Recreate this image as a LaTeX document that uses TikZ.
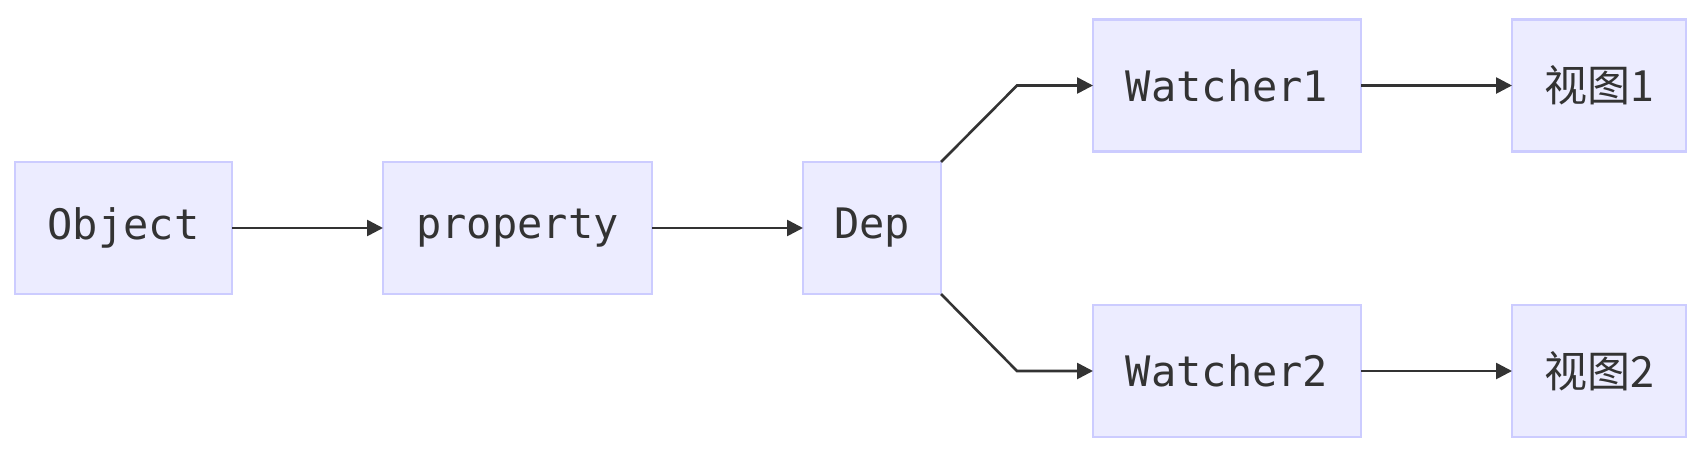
\documentclass[tikz,border=0pt]{standalone}
\usepackage{fontspec}
\setmonofont{DejaVu Sans Mono}
\newfontfamily\cjk{Noto Sans CJK SC}
\usetikzlibrary{arrows.meta}
\definecolor{nfill}{HTML}{ECECFF}
\definecolor{nline}{HTML}{CCCCFF}
\definecolor{tcol}{HTML}{333333}
\tikzset{
  nbox/.style={draw=nline, fill=nfill, line width=1.3pt, rectangle, outer sep=0pt, inner sep=0pt,
    minimum height=66pt, text=tcol, font=\fontsize{21}{25}\selectfont\ttfamily},
  cbox/.style={nbox, font=\fontsize{21.5}{25}\selectfont\cjk},
  conn/.style={draw=tcol, line width=1.3pt, -{Triangle[length=8pt,width=8pt]}},
}
\begin{document}
\begin{tikzpicture}[x=0.5pt,y=-0.5pt]
\useasboundingbox (0,0) rectangle (1696,456);
\node[nbox, minimum width=108.5pt] (obj) at (123.5,228) {Object};
\node[nbox, minimum width=134.5pt] (prop) at (517.5,228) {property};
\node[nbox, minimum width=69pt] (dep) at (872,228) {Dep};
\node[nbox, minimum width=134pt] (w1) at (1227,85.5) {Watcher1};
\node[nbox, minimum width=134pt] (w2) at (1227,371) {Watcher2};
\node[cbox, minimum width=87pt] (v1) at (1599,85.5) {视图1};
\node[cbox, minimum width=87pt] (v2) at (1599,371) {视图2};
\coordinate (b1) at (1017,85.5);
\coordinate (b2) at (1017,371);
\draw[conn] (obj.east) -- (prop.west);
\draw[conn] (prop.east) -- (dep.west);
\draw[conn] (dep.north east) -- (b1) -- (w1.west);
\draw[conn] (dep.south east) -- (b2) -- (w2.west);
\draw[conn] (w1.east) -- (v1.west);
\draw[conn] (w2.east) -- (v2.west);
\end{tikzpicture}
\end{document}
